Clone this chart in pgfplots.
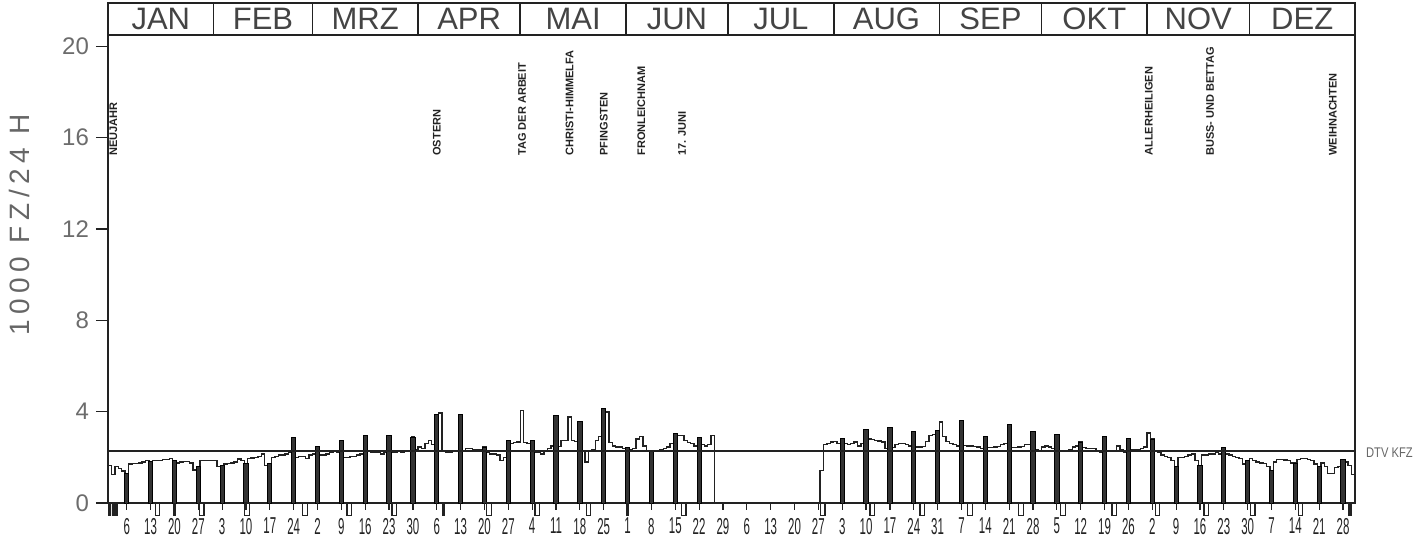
\documentclass[border=0pt]{standalone}
\usepackage{fontspec}
\setmainfont{Liberation Sans}
\newfontfamily\condA[FakeStretch=0.5]{Liberation Sans}
\newfontfamily\condB[FakeStretch=0.8]{Liberation Sans}
\newfontfamily\spaced[LetterSpace=20]{Liberation Sans}
\usepackage{pgfplots}
\pgfplotsset{compat=1.18}
\usepackage{pgfplotstable}
\definecolor{ink}{HTML}{222222}
\definecolor{txt}{HTML}{444444}

\pgfplotstableread[row sep=\\]{x y\\
0 1.65\\ 1 1.25\\ 2 1.6\\ 3 1.5\\ 4 1.4\\ 5 1.28\\ 6 1.7\\ 7 1.72\\ 8 1.72\\ 9 1.75\\
10 1.8\\ 11 1.85\\ 12 1.8\\ 13 1.85\\ 14 1.87\\ 15 1.87\\ 16 1.9\\ 17 1.9\\ 18 1.95\\ 19 1.87\\
20 1.75\\ 21 1.8\\ 22 1.82\\ 23 1.82\\ 24 1.75\\ 25 1.45\\ 26 1.58\\ 27 1.85\\ 28 1.85\\ 29 1.87\\
30 1.87\\ 31 1.85\\ 32 1.6\\ 33 1.65\\ 34 1.7\\ 35 1.72\\ 36 1.75\\ 37 1.8\\ 38 1.92\\ 39 1.85\\
40 1.72\\ 41 1.95\\ 42 1.97\\ 43 2.0\\ 44 2.05\\ 45 2.15\\ 46 1.65\\ 47 1.72\\ 48 2.0\\ 49 2.05\\
50 2.1\\ 51 2.1\\ 52 2.15\\ 53 2.2\\ 54 2.85\\ 55 2.0\\ 56 2.05\\ 57 2.05\\ 58 1.95\\ 59 2.1\\
60 2.15\\ 61 2.48\\ 62 2.1\\ 63 2.1\\ 64 2.15\\ 65 2.2\\ 66 2.25\\ 67 2.2\\ 68 2.74\\ 69 2.0\\
70 2.0\\ 71 2.05\\ 72 2.05\\ 73 2.1\\ 74 2.15\\ 75 2.95\\ 76 2.25\\ 77 2.2\\ 78 2.2\\ 79 2.2\\
80 2.15\\ 81 2.2\\ 82 2.95\\ 83 2.2\\ 84 2.2\\ 85 2.25\\ 86 2.2\\ 87 2.25\\ 88 2.3\\ 89 2.89\\
90 2.35\\ 91 2.45\\ 92 2.4\\ 93 2.6\\ 94 2.75\\ 95 2.55\\ 96 3.87\\ 97 3.94\\ 98 2.25\\ 99 2.2\\
100 2.2\\ 101 2.25\\ 102 2.3\\ 103 3.87\\ 104 2.3\\ 105 2.4\\ 106 2.4\\ 107 2.35\\ 108 2.35\\ 109 2.35\\
110 2.45\\ 111 2.2\\ 112 2.15\\ 113 2.15\\ 114 2.1\\ 115 1.85\\ 116 2.0\\ 117 2.72\\ 118 2.6\\ 119 2.65\\
120 2.67\\ 121 4.06\\ 122 2.65\\ 123 2.6\\ 124 2.74\\ 125 2.2\\ 126 2.2\\ 127 2.15\\ 128 2.25\\ 129 2.4\\
130 2.5\\ 131 3.84\\ 132 2.48\\ 133 2.74\\ 134 2.74\\ 135 3.77\\ 136 2.74\\ 137 2.7\\ 138 3.55\\ 139 2.3\\
140 1.8\\ 141 2.3\\ 142 2.35\\ 143 2.75\\ 144 2.9\\ 145 4.13\\ 146 3.99\\ 147 2.65\\ 148 2.5\\ 149 2.45\\
150 2.45\\ 151 2.4\\ 152 2.42\\ 153 2.35\\ 154 2.38\\ 155 2.8\\ 156 2.92\\ 157 2.5\\ 158 2.3\\ 159 2.28\\
160 2.3\\ 161 2.3\\ 162 2.33\\ 163 2.38\\ 164 2.45\\ 165 2.6\\ 166 3.04\\ 167 2.95\\ 168 2.96\\ 169 2.75\\
170 2.65\\ 171 2.6\\ 172 2.5\\ 173 2.86\\ 174 2.55\\ 175 2.5\\ 176 2.55\\ 177 2.96\\ 178 0\\
}\springA

\pgfplotstableread[row sep=\\]{x y\\
209 0\\ 209 1.43\\ 210 2.55\\ 211 2.6\\ 212 2.67\\ 213 2.7\\ 214 2.6\\ 215 2.82\\ 216 2.6\\ 217 2.55\\
218 2.6\\ 219 2.67\\ 220 2.5\\ 221 2.6\\ 222 3.23\\ 223 2.8\\ 224 2.78\\ 225 2.75\\ 226 2.72\\ 227 2.68\\
228 2.4\\ 229 3.3\\ 230 2.42\\ 231 2.55\\ 232 2.6\\ 233 2.6\\ 234 2.55\\ 235 2.5\\ 236 3.12\\ 237 2.45\\
238 2.45\\ 239 2.48\\ 240 2.7\\ 241 2.95\\ 242 3.0\\ 243 3.18\\ 244 3.55\\ 245 2.9\\ 246 2.7\\ 247 2.6\\
248 2.55\\ 249 2.5\\ 250 3.62\\ 251 2.52\\ 252 2.5\\ 253 2.5\\ 254 2.48\\ 255 2.45\\ 256 2.38\\ 257 2.92\\
258 2.42\\ 259 2.42\\ 260 2.45\\ 261 2.48\\ 262 2.55\\ 263 2.6\\ 264 3.45\\ 265 2.42\\ 266 2.42\\ 267 2.45\\
268 2.48\\ 269 2.55\\ 270 2.55\\ 271 3.12\\ 272 2.35\\ 273 2.3\\ 274 2.45\\ 275 2.5\\ 276 2.45\\ 277 2.4\\
278 2.99\\ 279 2.3\\ 280 2.25\\ 281 2.25\\ 282 2.35\\ 283 2.45\\ 284 2.5\\ 285 2.67\\ 286 2.42\\ 287 2.4\\
288 2.38\\ 289 2.4\\ 290 2.3\\ 291 2.2\\ 292 2.92\\ 293 2.25\\ 294 2.28\\ 295 2.25\\ 296 2.5\\ 297 2.35\\
298 2.2\\ 299 2.82\\ 300 2.33\\ 301 2.35\\ 302 2.35\\ 303 2.4\\ 304 2.45\\ 305 3.07\\ 306 2.8\\ 307 2.25\\
308 2.2\\ 309 2.1\\ 310 2.05\\ 311 2.0\\ 312 1.87\\ 313 1.6\\ 314 2.0\\ 315 2.0\\ 316 2.05\\ 317 2.1\\
318 2.15\\ 319 1.85\\ 320 1.65\\ 321 2.1\\ 322 2.1\\ 323 2.15\\ 324 2.15\\ 325 2.2\\ 326 2.15\\ 327 2.42\\
328 2.15\\ 329 2.1\\ 330 2.05\\ 331 2.0\\ 332 1.95\\ 333 1.7\\ 334 1.87\\ 335 1.95\\ 336 1.85\\ 337 1.8\\
338 1.75\\ 339 1.72\\ 340 1.6\\ 341 1.43\\ 342 1.8\\ 343 1.9\\ 344 1.9\\ 345 1.88\\ 346 1.85\\ 347 1.75\\
348 1.75\\ 349 1.9\\ 350 1.95\\ 351 1.95\\ 352 1.9\\ 353 1.85\\ 354 1.7\\ 355 1.6\\ 356 1.75\\ 357 1.6\\
358 1.3\\ 359 1.28\\ 360 1.55\\ 361 1.6\\ 362 1.9\\ 363 1.8\\ 364 1.65\\ 365 1.25\\ 366 1.25\\
}\autumn

\pgfplotstableread[row sep=\\]{x y\\
5.5 1.28\\ 12.5 1.8\\ 19.5 1.87\\ 26.5 1.58\\ 33.5 1.65\\ 40.5 1.72\\ 47.5 1.72\\ 54.5 2.85\\
61.5 2.48\\ 68.5 2.74\\ 75.5 2.95\\ 82.5 2.95\\ 89.5 2.89\\ 96.5 3.87\\ 103.5 3.87\\ 110.5 2.45\\
117.5 2.72\\ 124.5 2.74\\ 131.5 3.84\\ 138.5 3.55\\ 145.5 4.13\\ 152.5 2.42\\ 159.5 2.28\\ 166.5 3.04\\
173.5 2.86\\ 215.5 2.82\\ 222.5 3.23\\ 229.5 3.3\\ 236.5 3.12\\ 243.5 3.18\\ 250.5 3.62\\ 257.5 2.92\\
264.5 3.45\\ 271.5 3.12\\ 278.5 2.99\\ 285.5 2.67\\ 292.5 2.92\\ 299.5 2.82\\ 306.5 2.8\\ 313.5 1.6\\
320.5 1.65\\ 327.5 2.42\\ 334.5 1.87\\ 341.5 1.43\\ 348.5 1.75\\ 355.5 1.6\\ 362.5 1.9\\
}\sundays

\begin{document}
\begin{tikzpicture}
\begin{axis}[
  scale only axis, width=623.5pt, height=250pt,
  xmin=0, xmax=366, ymin=0, ymax=21.9,
  clip=false,
  axis line style={line width=1pt, ink},
  ytick={0,4,8,12,16,20}, yticklabels={0,4,8,12,16,20},
  ytick pos=left, tick align=outside, major tick length=6pt,
  ytick style={ink, line width=0.6pt},
  yticklabel style={font=\fontsize{12}{12}\selectfont, text=gray!85!black},
  xtick={5.5,12.5,...,362.5},
  xticklabels={6,13,20,27,3,10,17,24,2,9,16,23,30,6,13,20,27,4,11,18,25,1,8,15,22,29,6,13,20,27,3,10,17,24,31,7,14,21,28,5,12,19,26,2,9,16,23,30,7,14,21,28},
  xtick style={draw=none},
  xticklabel style={font=\condA\fontsize{11.5}{11.5}\selectfont, text=ink, yshift=2pt},
  ylabel={1000 FZ/24 H},
  ylabel style={at={(axis description cs:-0.0706,0.556)}, anchor=center,
    font=\spaced\fontsize{14}{14}\selectfont, text=gray!80!black},
]
% weekday step line
\addplot[const plot mark left, ink, line width=0.7pt] table {\springA};
\addplot[const plot mark left, ink, line width=0.7pt] table {\autumn};
% Sunday bars
\addplot[ybar, bar width=1.25, fill=black!80, draw=black, line width=0.5pt] table {\sundays};
% DTV line
\addplot[ink, line width=0.8pt] coordinates {(0,2.27) (366,2.27)};
% marks below the axis
\addplot[ycomb, ink, line width=0.6pt] coordinates {
(5.5,-0.3) (12.5,-0.3) (19.5,-0.3) (26.5,-0.3) (33.5,-0.3) (40.5,-0.3) (47.5,-0.3) (54.5,-0.3)
(61.5,-0.3) (68.5,-0.3) (75.5,-0.3) (82.5,-0.3) (89.5,-0.3) (96.5,-0.3) (103.5,-0.3) (110.5,-0.3)
(117.5,-0.3) (124.5,-0.3) (131.5,-0.3) (138.5,-0.3) (145.5,-0.3) (152.5,-0.3) (159.5,-0.3) (166.5,-0.3)
(173.5,-0.3) (180.5,-0.3) (187.5,-0.3) (194.5,-0.3) (201.5,-0.3) (208.5,-0.3) (215.5,-0.3) (222.5,-0.3)
(229.5,-0.3) (236.5,-0.3) (243.5,-0.3) (250.5,-0.3) (257.5,-0.3) (264.5,-0.3) (271.5,-0.3) (278.5,-0.3)
(285.5,-0.3) (292.5,-0.3) (299.5,-0.3) (306.5,-0.3) (313.5,-0.3) (320.5,-0.3) (327.5,-0.3) (334.5,-0.3)
(341.5,-0.3) (348.5,-0.3) (355.5,-0.3) (362.5,-0.3)};
\addplot[ybar, bar width=1.3, draw=ink, fill=none, line width=0.6pt] coordinates {
(14.5,-0.55) (27.5,-0.55) (40.8,-0.55) (57.8,-0.55) (70.8,-0.55) (84,-0.55) (111.8,-0.55) (126,-0.55)
(141,-0.55) (169,-0.55) (209.8,-0.55) (224.3,-0.55) (239,-0.55) (253,-0.55) (268,-0.55) (280.3,-0.55)
(295.3,-0.55) (308,-0.55) (322.3,-0.55) (336,-0.55) (350,-0.55)};
\addplot[ybar, bar width=0.7, draw=ink, fill=ink, line width=0.4pt] coordinates {
(0.5,-0.55) (1.5,-0.55) (2.5,-0.55) (19.5,-0.55) (98.5,-0.55) (152.5,-0.55) (364.5,-0.55)};

% month header
\draw[ink, line width=1pt] (axis cs:0,20.48) -- (axis cs:366,20.48);
\draw[ink, line width=0.8pt] (axis cs:31,20.48) -- (axis cs:31,21.9);
\draw[ink, line width=0.8pt] (axis cs:60,20.48) -- (axis cs:60,21.9);
\draw[ink, line width=0.8pt] (axis cs:91,20.48) -- (axis cs:91,21.9);
\draw[ink, line width=0.8pt] (axis cs:121,20.48) -- (axis cs:121,21.9);
\draw[ink, line width=0.8pt] (axis cs:152,20.48) -- (axis cs:152,21.9);
\draw[ink, line width=0.8pt] (axis cs:182,20.48) -- (axis cs:182,21.9);
\draw[ink, line width=0.8pt] (axis cs:213,20.48) -- (axis cs:213,21.9);
\draw[ink, line width=0.8pt] (axis cs:244,20.48) -- (axis cs:244,21.9);
\draw[ink, line width=0.8pt] (axis cs:274,20.48) -- (axis cs:274,21.9);
\draw[ink, line width=0.8pt] (axis cs:305,20.48) -- (axis cs:305,21.9);
\draw[ink, line width=0.8pt] (axis cs:335,20.48) -- (axis cs:335,21.9);
\node[font=\fontsize{15.5}{15.5}\selectfont, text=txt] at (axis cs:15.5,21.19) {JAN};
\node[font=\fontsize{15.5}{15.5}\selectfont, text=txt] at (axis cs:45.5,21.19) {FEB};
\node[font=\fontsize{15.5}{15.5}\selectfont, text=txt] at (axis cs:75.5,21.19) {MRZ};
\node[font=\fontsize{15.5}{15.5}\selectfont, text=txt] at (axis cs:106,21.19) {APR};
\node[font=\fontsize{15.5}{15.5}\selectfont, text=txt] at (axis cs:136.5,21.19) {MAI};
\node[font=\fontsize{15.5}{15.5}\selectfont, text=txt] at (axis cs:167,21.19) {JUN};
\node[font=\fontsize{15.5}{15.5}\selectfont, text=txt] at (axis cs:197.5,21.19) {JUL};
\node[font=\fontsize{15.5}{15.5}\selectfont, text=txt] at (axis cs:228.5,21.19) {AUG};
\node[font=\fontsize{15.5}{15.5}\selectfont, text=txt] at (axis cs:259,21.19) {SEP};
\node[font=\fontsize{15.5}{15.5}\selectfont, text=txt] at (axis cs:289.5,21.19) {OKT};
\node[font=\fontsize{15.5}{15.5}\selectfont, text=txt] at (axis cs:320,21.19) {NOV};
\node[font=\fontsize{15.5}{15.5}\selectfont, text=txt] at (axis cs:350.5,21.19) {DEZ};

% holidays
\node[rotate=90, anchor=west, inner sep=0pt, font=\bfseries\fontsize{5.5}{5.5}\selectfont, text=ink] at (axis cs:1.6,15.2) {NEUJAHR};
\node[rotate=90, anchor=west, inner sep=0pt, font=\bfseries\fontsize{5.5}{5.5}\selectfont, text=ink] at (axis cs:96.5,15.2) {OSTERN};
\node[rotate=90, anchor=west, inner sep=0pt, font=\bfseries\fontsize{5.5}{5.5}\selectfont, text=ink] at (axis cs:121.5,15.2) {TAG DER ARBEIT};
\node[rotate=90, anchor=west, inner sep=0pt, font=\bfseries\fontsize{5.5}{5.5}\selectfont, text=ink] at (axis cs:135.5,15.2) {CHRISTI-HIMMELFA};
\node[rotate=90, anchor=west, inner sep=0pt, font=\bfseries\fontsize{5.5}{5.5}\selectfont, text=ink] at (axis cs:145.5,15.2) {PFINGSTEN};
\node[rotate=90, anchor=west, inner sep=0pt, font=\bfseries\fontsize{5.5}{5.5}\selectfont, text=ink] at (axis cs:156.5,15.2) {FRONLEICHNAM};
\node[rotate=90, anchor=west, inner sep=0pt, font=\bfseries\fontsize{5.5}{5.5}\selectfont, text=ink] at (axis cs:168.5,15.2) {17. JUNI};
\node[rotate=90, anchor=west, inner sep=0pt, font=\bfseries\fontsize{5.5}{5.5}\selectfont, text=ink] at (axis cs:305.5,15.2) {ALLERHEILIGEN};
\node[rotate=90, anchor=west, inner sep=0pt, font=\bfseries\fontsize{5.5}{5.5}\selectfont, text=ink] at (axis cs:323.5,15.2) {BUSS- UND BETTAG};
\node[rotate=90, anchor=west, inner sep=0pt, font=\bfseries\fontsize{5.5}{5.5}\selectfont, text=ink] at (axis cs:359.5,15.2) {WEIHNACHTEN};

\node[anchor=west, font=\condB\fontsize{7}{7}\selectfont, text=gray!80!black] at (axis cs:366,2.2) {\hspace{2pt}DTV KFZ};
\end{axis}
\pgfresetboundingbox
\path ([shift={(-54pt,-22.5pt)}]current axis.south west) rectangle ([shift={(35.5pt,1.5pt)}]current axis.north east);
\end{tikzpicture}
\end{document}
